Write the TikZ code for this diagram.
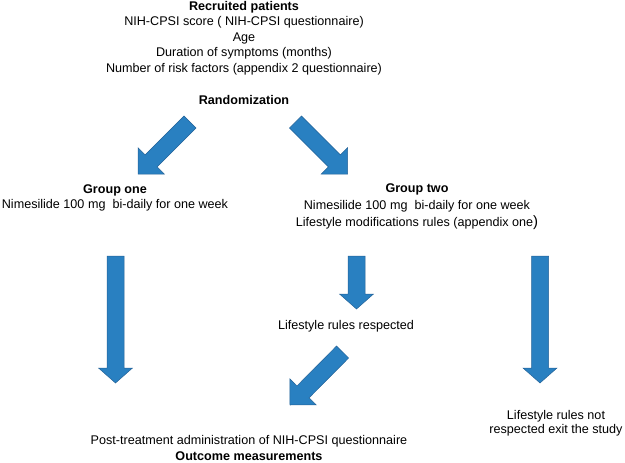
\documentclass[tikz,border=0pt]{standalone}
\usepackage{fontspec}
\setmainfont{Liberation Sans}
\usetikzlibrary{calc}
\definecolor{arrowblue}{RGB}{41,128,193}
\definecolor{arrowedge}{RGB}{36,98,152}
\tikzset{
  txt/.style={inner sep=0pt, align=center, font=\fontsize{12.6}{15.5}\selectfont},
  blockarrow/.style={fill=arrowblue, draw=arrowedge, line width=0.5pt, line join=miter}
}
% block arrow: tail, tip, half shaft, half head, head length
\newcommand{\blockarrow}[5]{%
  \coordinate (hb) at ($(#2)!#5!(#1)$);
  \filldraw[blockarrow] ($(#1)!#3!90:(#2)$) -- ($(hb)!#3!-90:(#1)$)
    -- ($(hb)!#4!-90:(#1)$) -- (#2) -- ($(hb)!#4!90:(#1)$)
    -- ($(hb)!#3!90:(#1)$) -- ($(#1)!#3!-90:(#2)$) -- cycle;}

\begin{document}
\begin{tikzpicture}[x=1pt,y=-1pt]
\useasboundingbox (0,0) rectangle (625,463);
% the texts
\node[txt] (recruited) at (244,38) {\textbf{Recruited patients}\\NIH-CPSI score ( NIH-CPSI questionnaire)\\Age\\Duration of symptoms (months)\\Number of risk factors (appendix 2 questionnaire)};
\node[txt] (random) at (244,100) {\textbf{Randomization}};
\node[txt] (groupone) at (115,198) {\textbf{Group one}\\Nimesilide 100 mg\ \ bi-daily for one week};
\node[txt, font=\fontsize{12.6}{17}\selectfont] (grouptwo) at (417,207) {\textbf{Group two}\\Nimesilide 100 mg\ \ bi-daily for one week\\Lifestyle modifications rules (appendix one{\fontsize{15}{15}\selectfont)}};
\node[txt] (respected) at (346,326) {Lifestyle rules respected};
\node[txt, font=\fontsize{12.6}{14}\selectfont] (exit) at (556,423) {Lifestyle rules not\\respected exit the study};
\node[txt, font=\fontsize{12.6}{16}\selectfont] (outcome) at (249,448) {Post-treatment administration of NIH-CPSI questionnaire\\\textbf{Outcome measurements}};
% arrow ends
\coordinate (a1) at (190,122);   \coordinate (b1) at (138,174);
\coordinate (a2) at (295.5,122); \coordinate (b2) at (347.5,174);
\coordinate (a3) at (115.5,256); \coordinate (b3) at (115.5,383);
\coordinate (a4) at (356.5,256); \coordinate (b4) at (356.5,309);
\coordinate (a5) at (540,256);   \coordinate (b5) at (540,383);
\coordinate (a6) at (342.6,352); \coordinate (b6) at (290,405);
% the arrows
\blockarrow{a1}{b1}{8.5pt}{18.5pt}{18.5pt}
\blockarrow{a2}{b2}{8.5pt}{18.5pt}{18.5pt}
\blockarrow{a3}{b3}{8.5pt}{17pt}{15pt}
\blockarrow{a4}{b4}{8.5pt}{17pt}{15pt}
\blockarrow{a5}{b5}{8.5pt}{17pt}{15pt}
\blockarrow{a6}{b6}{8.5pt}{18.5pt}{18.5pt}
\end{tikzpicture}
\end{document}
